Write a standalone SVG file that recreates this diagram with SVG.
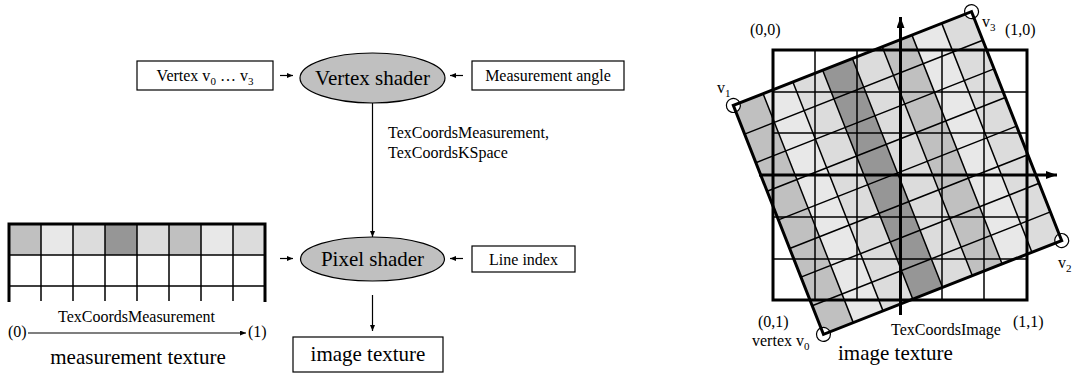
<svg xmlns="http://www.w3.org/2000/svg" width="1073" height="373" viewBox="0 0 1073 373">
  <style>
    text { font-family: "Liberation Serif", "Times New Roman", serif; fill: #000; }
    .s { font-size: 16px; }
    .b { font-size: 21px; }
    .sub { font-size: 11px; }
    .box { fill: #fff; stroke: #000; stroke-width: 1.2; }
    .shader { fill: #c0c0c0; stroke: #000; stroke-width: 1.2; }
    .conn { stroke: #000; stroke-width: 1.2; fill: none; }
    .thin { stroke: #000; stroke-width: 1.5; fill: none; }
    .thick { stroke: #000; stroke-width: 3; fill: none; }
    .c0 { fill: #c0c0c0; }
    .c1 { fill: #e8e8e8; }
    .c2 { fill: #dcdcdc; }
    .c3 { fill: #969696; }
  </style>
  <defs>
    <marker id="arr" viewBox="0 0 10 10" refX="10" refY="5" markerWidth="6" markerHeight="5" markerUnits="userSpaceOnUse" orient="auto" preserveAspectRatio="none">
      <path d="M0,0 L10,5 L0,10 z" fill="#000"/>
    </marker>
    <marker id="axarr" viewBox="0 0 10 10" refX="10" refY="5" markerWidth="11" markerHeight="8" markerUnits="userSpaceOnUse" orient="auto" preserveAspectRatio="none">
      <path d="M0,0 L10,5 L0,10 z" fill="#000"/>
    </marker>
  </defs>
  <rect width="1073" height="373" fill="#fff"/>

  <!-- pipeline nodes -->
  <g id="vertex-input">
    <rect class="box" x="137" y="61" width="136" height="29"/>
    <text class="s" x="205" y="81" text-anchor="middle">Vertex v<tspan class="sub" dy="4">0</tspan><tspan dy="-4"> … v</tspan><tspan class="sub" dy="4">3</tspan></text>
  </g>
  <g id="vertex-shader">
    <ellipse class="shader" cx="372.5" cy="78" rx="72.5" ry="25"/>
    <text class="b" x="372.5" y="85" text-anchor="middle">Vertex shader</text>
  </g>
  <g id="measurement-angle">
    <rect class="box" x="472" y="61" width="152" height="29"/>
    <text class="s" x="548" y="81" text-anchor="middle">Measurement angle</text>
  </g>
  <g id="pixel-shader">
    <ellipse class="shader" cx="372.5" cy="259" rx="72" ry="22"/>
    <text class="b" x="372.5" y="266" text-anchor="middle">Pixel shader</text>
  </g>
  <g id="line-index">
    <rect class="box" x="472" y="246" width="103" height="26"/>
    <text class="s" x="523.5" y="264.5" text-anchor="middle">Line index</text>
  </g>
  <g id="image-texture-output">
    <rect class="box" x="293" y="337" width="150" height="35"/>
    <text class="b" x="368" y="361" text-anchor="middle">image texture</text>
  </g>
  <g id="measurement-texture">
    <rect class="c0" x="9" y="224" width="32" height="31"/>
    <rect class="c1" x="41" y="224" width="32" height="31"/>
    <rect class="c2" x="73" y="224" width="32" height="31"/>
    <rect class="c3" x="105" y="224" width="32" height="31"/>
    <rect class="c2" x="137" y="224" width="32" height="31"/>
    <rect class="c0" x="169" y="224" width="32" height="31"/>
    <rect class="c1" x="201" y="224" width="32" height="31"/>
    <rect class="c2" x="233" y="224" width="32" height="31"/>
    <path class="thin" d="M9,255 H265 M9,286 H265 M41,224 V301 M73,224 V301 M105,224 V301 M137,224 V301 M169,224 V301 M201,224 V301 M233,224 V301"/>
    <path class="thick" d="M9,302 V224 H265 V302"/>
    <text class="s" x="136.5" y="321.5" text-anchor="middle">TexCoordsMeasurement</text>
    <text class="s" x="8" y="337">(0)</text>
    <text class="s" x="248" y="337">(1)</text>
    <text class="b" x="138" y="364" text-anchor="middle">measurement texture</text>
  </g>

  <!-- connectors -->
  <g id="connectors">
    <line class="conn" x1="280" y1="75.5" x2="293" y2="75.5" marker-end="url(#arr)"/>
    <line class="conn" x1="463" y1="75.5" x2="450" y2="75.5" marker-end="url(#arr)"/>
    <line class="conn" x1="372.5" y1="103" x2="372.5" y2="237" marker-end="url(#arr)"/>
    <line class="conn" x1="280" y1="258.5" x2="293" y2="258.5" marker-end="url(#arr)"/>
    <line class="conn" x1="463" y1="258.5" x2="450" y2="258.5" marker-end="url(#arr)"/>
    <line class="conn" x1="372.5" y1="295" x2="372.5" y2="331" marker-end="url(#arr)"/>
    <line class="conn" x1="28" y1="333" x2="246" y2="333" marker-end="url(#arr)"/>
    <text class="s" x="388" y="138">TexCoordsMeasurement,</text>
    <text class="s" x="388" y="158">TexCoordsKSpace</text>
  </g>

  <!-- image texture: rotated measurement quad over the image grid -->
  <g id="image-texture-plot">
    <g transform="translate(897.5,173) rotate(-21.5)">
      <rect class="c0" x="-128" y="-123" width="32" height="246"/>
      <rect class="c1" x="-96" y="-123" width="32" height="246"/>
      <rect class="c2" x="-64" y="-123" width="32" height="246"/>
      <rect class="c3" x="-32" y="-123" width="32" height="246"/>
      <rect class="c2" x="0" y="-123" width="32" height="246"/>
      <rect class="c0" x="32" y="-123" width="32" height="246"/>
      <rect class="c1" x="64" y="-123" width="32" height="246"/>
      <rect class="c2" x="96" y="-123" width="32" height="246"/>
    </g>
    <!-- image pixel grid -->
    <path class="thin" d="M815,50 V300 M857,50 V300 M942,50 V300 M984,50 V300 M773,92 H1027 M773,133 H1027 M773,217 H1027 M773,259 H1027"/>
    <rect class="thick" x="773" y="50" width="254" height="250"/>
    <g transform="translate(897.5,173) rotate(-21.5)">
      <path class="thin" d="M-96,-123 V123 M-64,-123 V123 M-32,-123 V123 M0,-123 V123 M32,-123 V123 M64,-123 V123 M96,-123 V123 M-128,-92.25 H128 M-128,-61.5 H128 M-128,-30.75 H128 M-128,0 H128 M-128,30.75 H128 M-128,61.5 H128 M-128,92.25 H128"/>
      <circle cx="-128" cy="-123" r="7" fill="#fff" stroke="#000" stroke-width="1.2"/>
      <circle cx="128" cy="-123" r="7" fill="#fff" stroke="#000" stroke-width="1.2"/>
      <circle cx="128" cy="123" r="7" fill="#fff" stroke="#000" stroke-width="1.2"/>
      <circle cx="-128" cy="123" r="7" fill="#fff" stroke="#000" stroke-width="1.2"/>
      <rect class="thick" x="-128" y="-123" width="256" height="246"/>
    </g>
    <!-- axes -->
    <line class="thick" x1="900.5" y1="315" x2="900.5" y2="17" marker-end="url(#axarr)"/>
    <line class="thick" x1="759" y1="175" x2="1057" y2="175" marker-end="url(#axarr)"/>
    <!-- labels -->
    <text class="s" x="750" y="35">(0,0)</text>
    <text class="s" x="1005" y="35">(1,0)</text>
    <text class="s" x="758" y="327">(0,1)</text>
    <text class="s" x="1013" y="327">(1,1)</text>
    <text class="s" x="717" y="93">v<tspan class="sub" dy="4">1</tspan></text>
    <text class="s" x="982" y="27">v<tspan class="sub" dy="4">3</tspan></text>
    <text class="s" x="1058" y="268">v<tspan class="sub" dy="4">2</tspan></text>
    <text class="s" x="752" y="346">vertex v<tspan class="sub" dy="4">0</tspan></text>
    <text class="s" x="891" y="335">TexCoordsImage</text>
    <text class="b" x="838" y="360">image texture</text>
  </g>
</svg>
